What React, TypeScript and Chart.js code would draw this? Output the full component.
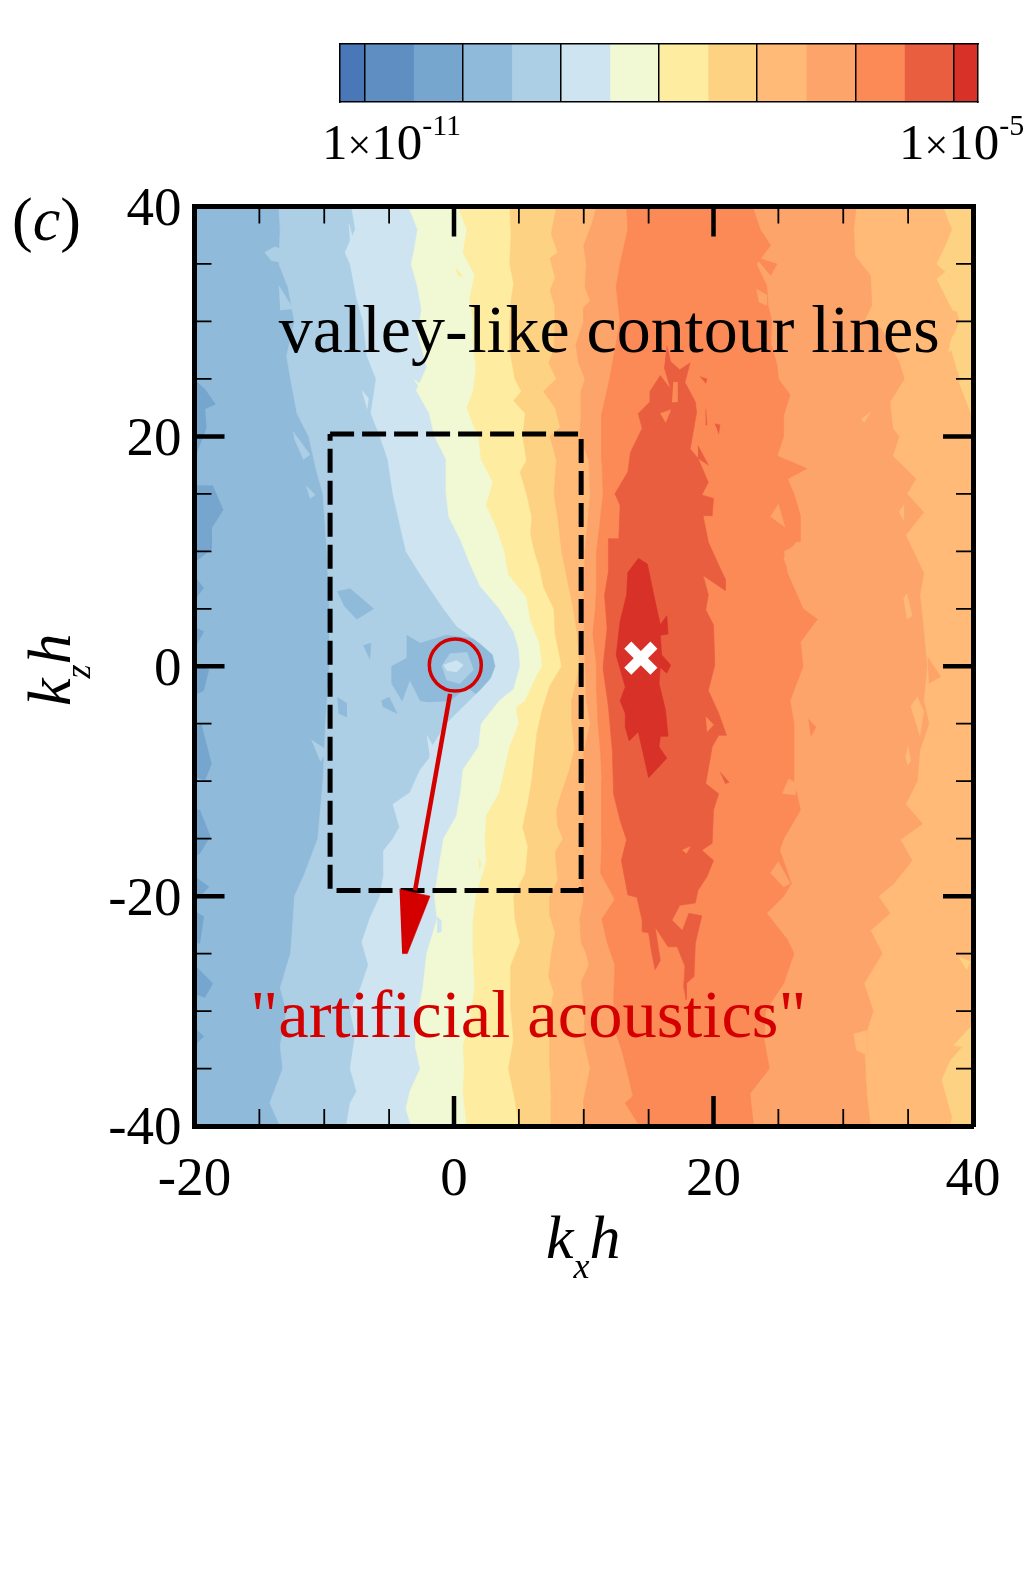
import React, { useEffect, useRef } from "react";
import { Chart, registerables } from "chart.js";

Chart.register(...registerables);

type Pt = [number, number];
const SERIF = '"Liberation Serif"';

// ---------- axis values ----------
const X_MIN = -20, X_MAX = 40, Y_MIN = -40, Y_MAX = 40;
const X_MAJOR = [0, 20];
const X_MINOR = [-15, -10, -5, 5, 10, 15, 25, 30, 35];
const Y_MAJOR = [-20, 0, 20];
const Y_MINOR = [-35, -30, -25, -15, -10, -5, 5, 10, 15, 25, 30, 35];

// ---------- colour levels ----------
const BAR_COLORS = ["#4a77b7", "#5f8ec3", "#76a5cd", "#90bad9", "#accfe5", "#cee5f1", "#f1f8d4", "#feeca0", "#fed283", "#feba76", "#fda46a", "#fc8a56", "#ea5e40", "#d73128"];
const BAR_CELLS = [0.5, 1, 1, 1, 1, 1, 1, 1, 1, 1, 1, 1, 1, 0.5];
const BAR_LINES = [0.5, 2.5, 4.5, 6.5, 8.5, 10.5, 12.5];

const C1 = BAR_COLORS[2], C2 = BAR_COLORS[3], C3 = BAR_COLORS[4], C4 = BAR_COLORS[5], C5 = BAR_COLORS[6], C6 = BAR_COLORS[7], C7 = BAR_COLORS[8], C8 = BAR_COLORS[9], C9 = BAR_COLORS[10], C10 = BAR_COLORS[11], C11 = BAR_COLORS[12], C12 = BAR_COLORS[13];

// ---------- contour boundaries: [kx, kz] ----------
const B1: Pt[] = [[-13.5,40],[-13.4,38],[-13.5,35],[-12.8,33],[-12.3,30],[-12.9,27],[-12.6,25],[-12.1,22],[-11.2,20],[-10.6,17],[-10.1,15],[-9.8,10],[-9.6,5],[-9.6,0],[-9.9,-5],[-10.1,-10],[-10.5,-15],[-11.5,-18],[-12.3,-20],[-12.4,-22],[-12.6,-25],[-13.4,-28],[-12.9,-30],[-13.4,-33],[-13.2,-35],[-14.2,-38],[-13.4,-40]];
const B2: Pt[] = [[-7.9,40],[-7.6,38],[-8.4,36],[-8,35],[-7.5,32],[-7,30],[-6.7,27],[-6,25],[-6.4,22],[-5.7,20],[-5.1,18],[-4.7,15],[-4.3,13],[-3.7,10],[-2.6,8],[-0.8,5],[0.2,3.5],[2,2],[3,1],[3.2,0],[2.9,-1],[2.1,-2],[1.2,-3],[-0.6,-5],[-1.7,-7],[-1.9,-8],[-2.6,-9],[-3.4,-11],[-4.7,-12],[-4.2,-14],[-4.7,-15],[-5.4,-16],[-5.4,-18],[-5.7,-20],[-6.5,-22],[-7.1,-24],[-6.6,-26],[-7.2,-28],[-8,-30],[-7.6,-32],[-8,-35],[-7.5,-37],[-8,-38],[-8.3,-40]];
const B3: Pt[] = [[-3.5,40],[-2.8,38],[-3.1,36],[-3.3,35],[-2.8,33],[-2.5,31],[-2.8,29],[-2.1,26],[-2.9,24],[-1.9,22],[-1.5,20],[-0.6,18],[-0.6,15],[-0.4,13],[0.5,11],[1.2,9],[2,7],[3.5,5],[4.6,3],[5,1.5],[5.1,0],[4.6,-2],[3.5,-3],[2.1,-5],[1.9,-7],[0.7,-9],[0.5,-11],[0.2,-13],[-0.8,-15],[-1.1,-17],[-1.5,-20],[-1.3,-22],[-2.1,-25],[-2.4,-28],[-2.9,-31],[-3,-33],[-2.6,-35],[-3.4,-37],[-3.7,-38.5],[-3.3,-40]];
const B4: Pt[] = [[0.3,40],[1,38],[0.7,36],[1.6,34],[1.2,32],[1.5,30],[1.5,28],[1.7,26],[1.5,24],[1,22.5],[1.5,21],[1.9,20],[2.1,18],[3,16],[2.5,14],[3.3,12],[3.9,10],[4.2,8],[5.6,6],[5.9,4],[6.6,2],[6.8,0],[6.3,-1],[5.5,-3],[4.8,-3.6],[5,-5],[4.3,-7],[3.9,-9],[3.5,-11],[2.5,-13],[2.4,-15],[2.5,-17],[1.7,-20],[1.5,-22],[1.5,-25],[1.6,-28],[1.2,-31],[0.7,-33],[0.8,-35],[0.7,-37],[1,-40]];
const B5: Pt[] = [[4.3,40],[4.4,37.6],[4.3,35],[4.6,33.3],[4.4,31.8],[4.3,30],[4.3,27.5],[4.7,25],[5.2,23.9],[4.6,23.1],[5.5,22],[5.3,20],[5.6,17.9],[5.1,16.9],[5.6,15],[6,13],[5.9,11.5],[6.2,10],[6.6,8.6],[6.9,6.9],[7.7,5],[7.8,2.8],[8.3,0],[7.4,-1.7],[6.8,-3.8],[6.4,-5.8],[6.2,-7.8],[6,-9.9],[5.7,-11.9],[5.3,-14],[5.7,-15.7],[5.5,-18],[4.6,-20],[4.7,-22],[5.1,-24],[4.4,-26],[4.4,-28],[4.4,-30],[4.6,-32.5],[4.2,-35],[4.7,-37.7],[5,-40]];
const B6: Pt[] = [[7.9,40],[7.5,37.6],[8,36],[7.4,35.5],[7.8,33.8],[7.4,32.7],[7.8,31.2],[7.8,30],[7.7,27.5],[7.3,26.4],[7.9,25],[6.9,23.9],[7.8,22.5],[8.2,20.8],[7.4,20],[7.9,17.9],[7.7,15],[8,13],[8.3,10],[8.8,7.2],[9.2,5],[9.5,2.8],[9.7,0],[9.1,-2.9],[9.1,-5],[9.3,-7.2],[8.9,-9],[8.3,-11],[7.9,-12.5],[8,-13.9],[8.4,-15],[7.8,-16.2],[8,-18.6],[7.4,-20],[7.4,-21.7],[7.8,-23.2],[7.5,-25],[7.3,-27],[7.7,-28.4],[7.4,-30],[7.4,-32.5],[7.4,-34.8],[7.5,-37.7],[7.5,-40]];
const B7: Pt[] = [[11,40],[10.6,38.4],[10,36.6],[10.2,35],[10.1,33],[10.5,31.8],[10,31.2],[10,30],[9.4,28],[9.6,26.4],[10.1,25],[9.8,23.9],[9.8,22],[9.7,20],[10.4,17.9],[10.5,15],[10.1,10],[10,5],[10.1,0],[10.2,-2.9],[10.5,-5],[10,-7.5],[10.1,-10],[10,-13],[10,-16],[9.8,-18.6],[10,-20.3],[9.7,-22],[9.8,-24],[10.2,-25],[10.4,-26],[9.8,-27.5],[10.1,-30],[10,-32.5],[10.5,-35],[10,-37.7],[10,-40]];
const B8: Pt[] = [[13.3,40],[13.4,38],[12.8,35],[12.5,33],[12.8,30],[12.4,27.5],[12,25],[11.4,22],[11.4,20],[11.4,17.9],[11.5,15],[11.3,13],[11,10],[11,7.2],[10.9,5],[10.7,2.8],[11,0],[11,-2.3],[11.1,-5],[11.3,-7.5],[11.4,-10],[11.4,-12.5],[11.4,-15],[11.3,-18],[12.4,-20.3],[11.4,-22],[11.8,-24],[12.4,-26],[12.3,-29],[12.5,-32],[12.9,-33.3],[13.3,-35],[13.8,-37.4],[13.2,-38],[14.3,-40]];
const B9: Pt[] = [[23,40],[23.6,38],[24.4,36.6],[23.3,35],[24.1,33.1],[24.2,31.4],[24.5,30],[24.4,28.2],[24.9,26.2],[25,25],[25.9,23.6],[25.4,21.8],[25.4,20],[24.9,18.3],[27.2,17.2],[25.7,16.3],[26.2,15],[26.7,13.1],[26.7,10.8],[25.4,10],[25.7,8.1],[26.9,5],[28,4.1],[26.7,2.1],[26.9,0],[26.4,-1.5],[25.9,-3],[26.2,-5],[26.2,-10],[26.7,-12.5],[25.4,-15],[25.1,-16],[26,-18.9],[25.4,-20],[24.1,-21.5],[25.7,-23.8],[26.2,-25],[25.4,-27.6],[24,-30],[23.9,-32.5],[24.3,-35],[22.8,-37.2],[23.1,-40]];
const B10: Pt[] = [[31,40],[30.8,38],[30.9,35.7],[32.1,34],[32.2,31.4],[31.6,30],[32.9,29.4],[34.3,26.5],[34.7,25],[33.6,23],[33.8,20.7],[34.3,20],[33.8,18.3],[35.6,16.3],[34.9,15],[36.2,13.4],[34.8,11.4],[35.4,10],[36.2,8.1],[35.9,6.2],[36.2,3],[36.45,0],[36.2,-3],[36.6,-5],[35.9,-7.3],[35.7,-10],[34.8,-12],[36.1,-13.7],[34.4,-15.1],[35.3,-16.9],[33.9,-18.9],[32.7,-20],[33.6,-21.5],[32.1,-23],[33,-25],[31.6,-27.6],[32.3,-30],[31.6,-32.5],[31.7,-35],[31.8,-37.2],[32.1,-40]];

const C7_TOP: Pt[] = [[37.7,40],[38.4,38],[37.9,36.6],[37.2,35],[38.2,34],[38.4,32.4],[39,30],[38.2,28],[39,25],[39.7,23],[40,21.2],[40,40]];
const C7_BOTTOM: Pt[] = [[39.8,-31.4],[38.5,-33],[39.2,-33.1],[38.25,-34.3],[37.6,-36],[38.4,-39.2],[38.25,-40],[40,-40],[40,-31.4]];

const C11_BLOB: Pt[] = [[16.4,27.9],[16.7,26.5],[17.4,25.8],[18.2,26.4],[17.8,24.7],[18.6,23],[18.7,22.1],[18.2,18.9],[18.8,18.1],[19.6,16],[19.1,14.9],[20,14.6],[19.9,13.1],[19.2,13.1],[19.6,10.8],[20.4,8.8],[20.9,7.6],[20.9,6.6],[19.2,7.9],[19.6,6.2],[19.4,4.9],[20,3.6],[20.1,0.1],[19.6,-2.1],[20.4,-4.1],[21,-6],[20.4,-6],[19.9,-7],[19.4,-10.2],[20.4,-11.1],[20,-12.5],[19.9,-15.4],[19.1,-16],[20,-16.9],[19.5,-18.3],[18.8,-19.5],[18.6,-20.6],[17.4,-20.8],[16.8,-22.1],[17.6,-23],[18.1,-21.5],[19.1,-21.7],[18.6,-24.1],[18.5,-27],[17.9,-27.6],[17.9,-29],[17.7,-27.9],[17.8,-26.1],[17.2,-24.4],[16.5,-24.4],[15.5,-22.7],[15.9,-25.6],[15.5,-26.4],[15.2,-24.7],[15,-23.2],[14.5,-23.1],[14.5,-22.1],[14.1,-20.1],[13.4,-19.9],[12.9,-16.9],[13.3,-15.1],[12.8,-13.4],[12.3,-11.1],[12.2,-7.3],[11.9,-3.5],[11.5,-0.3],[11.5,0.1],[11.8,3.3],[11.6,6.2],[11.9,8.2],[11.9,11.1],[12.7,11.1],[12.8,14],[12.4,15],[13.4,16.9],[13.6,18.6],[14.5,20.7],[14.2,22],[15.1,23],[15.1,23.9],[15.9,25.3],[16.7,24.1],[16.2,26]];
const C12_BLOB: Pt[] = [[14.2,9.4],[14.9,8.9],[15.4,6.2],[15.9,3.6],[16.4,4.4],[16.5,2.8],[15.9,2.7],[16,1],[16.7,0.1],[16.4,-0.6],[15.9,-0.1],[15.8,-1.5],[16.3,-3.8],[16.5,-6.1],[15.9,-6.1],[15.8,-7],[16.4,-8],[15,-9.7],[14.2,-5.7],[13.5,-6.5],[13.2,-5.3],[13.2,-4.1],[12.8,-3],[13.2,-1.8],[12.5,0.96],[12.8,3.9],[13.3,6.2],[13.4,8.2]];

// patches
const C1_PATCHES: Pt[][] = [
  [[-20,24.9],[-19.2,24.1],[-18.4,22.8],[-19.2,22.4],[-19.1,20.7],[-20,18.1]],
  [[-20,15.7],[-18.6,15.7],[-17.8,13.6],[-18.7,12],[-18.7,10.2],[-19.6,9.4],[-20,9.1]],
  [[-20,7.8],[-19.3,6.8],[-20,5.8]],
  [[-20,3.4],[-19.3,3],[-20,1.6]],
  [[-20,0.2],[-18.9,-0.3],[-19.3,-2.1],[-20,-2.5]],
  [[-20,-5.5],[-19.5,-5],[-18.7,-8.5],[-19.2,-9.9],[-20,-9.6]],
  [[-20,-12.5],[-19.6,-12.5],[-18.8,-14.8],[-19.6,-16.3],[-20,-16.5]],
  [[-20,-18.3],[-18.9,-19.2],[-20,-20.5]],
  [[-20,-21.3],[-19.3,-21.8],[-19.6,-24.1],[-20,-24]],
  [[-20,-26],[-18.6,-27.6],[-19.2,-28.8],[-20,-28.5]],
  [[-20,-31.5],[-19.3,-32.2],[-20,-33]],
];
const C2_PATCHES: Pt[][] = [
  [[-3.65,2.7],[-2.6,2],[-0.6,2.7],[1.5,2.4],[3.2,1.2],[3.2,0],[2.6,-1.5],[1.7,-2.4],[1,-1.8],[-0.3,-3],[-2,-3.1],[-2.6,-3],[-3.4,-1.2],[-4,-3],[-4.8,-1.5],[-4.8,0],[-3.65,0.7]],
  [[-9,6.5],[-8,6.75],[-6.2,5],[-7.5,4.1],[-8.5,5.3]],
  [[-5.6,-3],[-5,-2.7],[-4.4,-4.1],[-5.5,-3.5]],
  [[-9,-2.7],[-8.3,-3.2],[-8.3,-4.4],[-8.9,-4.1]],
  [[-7,1.8],[-6.4,2],[-6.5,0.6]],
];
const C3_PATCHES: Pt[][] = [
  [[-0.95,0],[-0.3,1.1],[1,1.2],[1.5,-0.3],[0.46,-1.5],[-0.57,-1.2]],
  [[-12.4,20.4],[-11.1,18.4],[-11.6,18],[-12.3,19.8]],
  [[-14.6,36],[-13.8,36.5],[-12.6,35.9],[-13.5,35.2],[-14.1,35.3]],
  [[-11,-6.4],[-9.8,-7.3],[-10.3,-8.3]],
  [[-11.4,15.7],[-10.7,14.9],[-11.1,14.6]],
  [[-13.5,33.1],[-12.4,31.1],[-13.4,31]],
];
const C4_PATCHES: Pt[][] = [
  [[-0.8,0.1],[0.2,0.5],[0.7,0.1],[0.2,-0.5],[-0.57,-0.35]],
  [[-2.1,-6],[-1.6,-7],[-1.85,-7.9]],
  [[-2.6,9.4],[-2.1,9.8],[-1.7,8.5],[-2.4,8.6]],
  [[-7.1,24],[-6.6,23.3],[-6.7,22.4]],
  [[-8.1,38.5],[-7.8,37.2],[-8,36.6]],
];
const C4_LATE: Pt[][] = [
  [[-1.3,-21.8],[-1,-22.1],[-1,-23.1],[-1.3,-23.2]],
];
const C5_LATE: Pt[][] = [
  [[-3.1,25],[-2,23.9],[-2.5,23.9]],
];
const C6_LATE: Pt[][] = [
  [[0.1,34.7],[0.7,33.9],[0.3,34]],
  [[1.9,-16.7],[2.1,-17.2],[1.95,-17.7]],
];
const C7_LATE: Pt[][] = [
  [[5.1,-24.4],[5.5,-26.4],[4.6,-27.2],[4.4,-26.1]],
  [[37.2,33.7],[38,34.4],[39,30.8],[38.4,31]],
  [[38.1,27.3],[38.75,27.9],[38.4,28.8]],
  [[38.9,24.7],[39.8,25],[39.8,22.1]],
  [[38.9,-25.3],[39.8,-25.7],[39.5,-26.4]],
];
const C8_LATE: Pt[][] = [
  [[35.2,-3.5],[35.7,-2.7],[36.2,-3.9],[35.9,-6.1]],
  [[34.8,-7.9],[35,-7],[35.2,-8.2],[34.95,-8.6]],
  [[31.4,21.5],[32.1,22.1],[31.6,21.2]],
  [[34.3,13.4],[34.65,14],[34.65,12.7]],
  [[34.65,5.9],[34.9,6.3],[35.3,4.4],[34.9,4.1]],
  [[30.8,-32],[31.8,-31.7],[31.8,-33.8],[31,-33.4]],
  [[32.7,-27.6],[33.2,-28.5],[32.9,-29.3],[32.5,-28.2]],
];
const C9_PATCHES: Pt[][] = [
  [[24.4,-18],[25,-17],[25.9,-18.9],[25.4,-19.2]],
  [[25.3,-11.1],[25.8,-9.8],[26.4,-10.2],[26.3,-11.2]],
  [[24.4,13],[25,14.1],[25.5,12.1]],
  [[23.3,32.8],[24.1,32.3],[24.1,31.4],[23.5,31.7]],
  [[25.4,9.4],[26.4,10.8],[27.5,10.8],[27.3,9.7],[26.2,7.6],[25.5,9.1]],
  [[36.5,0.8],[37.5,-0.9],[36.6,-1.5]],
];
const C10_PATCHES: Pt[][] = [
  [[23.2,35.6],[24.9,35],[24.4,34]],
  [[27.3,-4.6],[27.9,-5.3],[27.5,-6.1]],
];
const C10_HOLES: Pt[][] = [
  [[17.6,-16],[18.2,-15.7],[17.9,-16.3]],
  [[15.9,22],[16.7,22.3],[16.3,21.2]],
  [[16.9,24.7],[17.2,24.7],[17.2,23],[16.8,23]],
  [[19.4,-4.4],[20,-5.1],[19.5,-5.7]],
];
const C11_ISLANDS: Pt[][] = [
  [[18.95,25.2],[19.5,25],[19.4,24.6]],
  [[18.8,19.2],[19.6,17.5],[18.8,18.1]],
  [[20.1,21.1],[20.5,21],[20.4,20.2]],
  [[19.4,22.4],[19.5,21],[19.4,21]],
  [[20.5,-9.2],[21.2,-10.1],[20.9,-10.2]],
];

// annotations in data units
const DASH_BOX: Pt[] = [[-9.55,20.2],[9.8,20.2],[9.8,-19.5],[-9.55,-19.5],[-9.55,20.2]];
const ARROW_SHAFT: Pt[] = [[-0.3,-2.4],[-3,-19.5]];
const ARROW_HEAD: Pt[] = [[-4.2,-19.4],[-1.85,-20],[-3.6,-25],[-4,-25]];
const CIRCLE_CENTER: Pt[] = [[0.1,0.1]];
const PEAK_MARK: Pt[] = [[14.4,0.7]];
const PLOT_RECT: Pt[] = [[X_MIN,Y_MAX],[X_MAX,Y_MAX],[X_MAX,Y_MIN],[X_MIN,Y_MIN]];

const NOTE_BLACK = "valley-like contour lines";
const NOTE_RED = '"artificial acoustics"';
const RED = "#d40000";

const toXY = (p: Pt[]) => p.map(([x, y]) => ({ x, y }));

function shape(points: Pt[], color: string) {
  return {
    type: "scatter" as const,
    data: toXY(points),
    showLine: true,
    fill: "shape",
    backgroundColor: color,
    borderColor: color,
    borderWidth: 0.6,
    pointRadius: 0,
    tension: 0,
  };
}
const toRight = (left: Pt[]): Pt[] => [...left, [X_MAX, Y_MIN], [X_MAX, Y_MAX]];
const between = (left: Pt[], right: Pt[]): Pt[] => [...left, ...[...right].reverse()];

function segments(pairs: Pt[][], color: string, width: number) {
  const data: any[] = [];
  pairs.forEach((seg) => {
    seg.forEach(([x, y]) => data.push({ x, y }));
    data.push({ x: NaN, y: NaN });
  });
  return { type: "scatter" as const, data, showLine: true, spanGaps: false, fill: false, borderColor: color, borderWidth: width, pointRadius: 0 };
}

// tick marks are built from the tick arrays, with lengths in axis units
const XU = 12.97, YU = 11.5;
function tickSegs(xs: number[], ys: number[], len: number): Pt[][] {
  const out: Pt[][] = [];
  xs.forEach((v) => {
    out.push([[v, Y_MIN], [v, Y_MIN + len / YU]]);
    out.push([[v, Y_MAX], [v, Y_MAX - len / YU]]);
  });
  ys.forEach((v) => {
    out.push([[X_MIN, v], [X_MIN + len / XU, v]]);
    out.push([[X_MAX, v], [X_MAX - len / XU, v]]);
  });
  return out;
}

function fixedSize(prop: "width" | "height", value: number) {
  return (scale: any) => {
    scale[prop] = value;
  };
}

type Run = { t: string; font: string; dy?: number; gap?: number };
function drawRuns(ctx: CanvasRenderingContext2D, x: number, y: number, runs: Run[], color: string, rotate = false) {
  ctx.save();
  ctx.translate(x, y);
  if (rotate) ctx.rotate(-Math.PI / 2);
  ctx.fillStyle = color;
  ctx.textBaseline = "alphabetic";
  ctx.textAlign = "left";
  let cx = 0;
  runs.forEach((r) => {
    ctx.font = r.font;
    cx += r.gap || 0;
    ctx.fillText(r.t, cx, r.dy || 0);
    cx += ctx.measureText(r.t).width;
  });
  ctx.restore();
}

const textPlugin = {
  id: "figureText",
  afterDraw(chart: any) {
    const { ctx, scales } = chart;
    const px = (v: number) => scales.x.getPixelForValue(v);
    const py = (v: number) => scales.y.getPixelForValue(v);
    drawRuns(ctx, px(-13.5), py(27.3), [{ t: NOTE_BLACK, font: `68px ${SERIF}` }], "#000");
    drawRuns(ctx, px(-15.7), py(-32.3), [{ t: NOTE_RED, font: `68.5px ${SERIF}` }], RED);
    const f = `62px ${SERIF}`;
    const it = `italic 62px ${SERIF}`;
    const big = `italic 62px ${SERIF}`;
    const sub = `italic 36px ${SERIF}`;
    drawRuns(ctx, 12, 240, [{ t: "(", font: f }, { t: "c", font: it }, { t: ")", font: f }], "#000");
    drawRuns(ctx, 546, 1258, [{ t: "k", font: big }, { t: "x", font: sub, dy: 20 }, { t: "h", font: big }], "#000");
    drawRuns(ctx, 70, 706, [{ t: "k", font: big }, { t: "z", font: sub, dy: 20 }, { t: "h", font: big }], "#000", true);
    const b = `51px ${SERIF}`;
    const x = `42px ${SERIF}`;
    const s = `30px ${SERIF}`;
    drawRuns(ctx, 322, 159, [{ t: "1", font: b }, { t: "×", font: x }, { t: "10", font: b }, { t: "-11", font: s, dy: -24 }], "#000");
    drawRuns(ctx, 899, 159, [{ t: "1", font: b }, { t: "×", font: x }, { t: "10", font: b }, { t: "-5", font: s, dy: -24 }], "#000");
  },
};

export default function App() {
  const mainRef = useRef<HTMLCanvasElement>(null);
  const barRef = useRef<HTMLCanvasElement>(null);

  useEffect(() => {
    const paint: any[] = [
      shape(PLOT_RECT, C2),
      ...C1_PATCHES.map((p) => shape(p, C1)),
      shape(toRight(B1), C3),
      ...C2_PATCHES.map((p) => shape(p, C2)),
      ...C3_PATCHES.map((p) => shape(p, C3)),
      shape(toRight(B2), C4),
      ...C4_PATCHES.map((p) => shape(p, C4)),
      shape(toRight(B3), C5),
      shape(toRight(B4), C6),
      shape(toRight(B5), C7),
      shape(toRight(B6), C8),
      shape(C7_TOP, C7),
      shape(C7_BOTTOM, C7),
      shape(between(B7, B10), C9),
      shape(between(B8, B9), C10),
      ...C4_LATE.map((p) => shape(p, C4)),
      ...C5_LATE.map((p) => shape(p, C5)),
      ...C6_LATE.map((p) => shape(p, C6)),
      ...C7_LATE.map((p) => shape(p, C7)),
      ...C8_LATE.map((p) => shape(p, C8)),
      ...C9_PATCHES.map((p) => shape(p, C9)),
      ...C10_PATCHES.map((p) => shape(p, C10)),
      shape(C11_BLOB, C11),
      ...C10_HOLES.map((p) => shape(p, C10)),
      ...C11_ISLANDS.map((p) => shape(p, C11)),
      shape(C12_BLOB, C12),
      segments(tickSegs(X_MINOR, Y_MINOR, 17), "#000", 1.8),
      segments(tickSegs(X_MAJOR, Y_MAJOR, 30), "#000", 4.5),
      { type: "scatter", data: toXY(DASH_BOX), showLine: true, fill: false, borderColor: "#000", borderWidth: 5, borderDash: [24, 8], pointRadius: 0 },
      { type: "scatter", data: toXY(CIRCLE_CENTER), showLine: false, pointStyle: "circle", pointRadius: 26, pointBorderWidth: 3.5, pointBorderColor: RED, pointBackgroundColor: "rgba(0,0,0,0)" },
      { type: "scatter", data: toXY(ARROW_SHAFT), showLine: true, fill: false, borderColor: RED, borderWidth: 4.5, pointRadius: 0 },
      { ...shape(ARROW_HEAD, RED) },
      { type: "scatter", data: toXY(PEAK_MARK), showLine: false, pointStyle: "crossRot", pointRadius: 18.5, pointBorderWidth: 10, pointBorderColor: "#fff" },
    ];
    const tickFont = { family: "Liberation Serif", size: 55, weight: "normal" as const };
    const border = { display: true, color: "#000", width: 5, z: 3 };
    const main = new Chart(mainRef.current as HTMLCanvasElement, {
      type: "scatter",
      data: { datasets: paint.reverse() },
      plugins: [textPlugin],
      options: {
        animation: false,
        responsive: false,
        devicePixelRatio: 1,
        events: [],
        layout: { padding: { left: 0, top: 206.5, right: 51, bottom: 361 } },
        plugins: { legend: { display: false }, tooltip: { enabled: false } },
        scales: {
          x: {
            type: "linear", min: X_MIN, max: X_MAX, position: "bottom",
            afterFit: fixedSize("height", 100),
            border, grid: { display: false },
            ticks: { stepSize: 20, font: tickFont, color: "#000", padding: 14, maxRotation: 0, autoSkip: false },
          },
          y: {
            type: "linear", min: Y_MIN, max: Y_MAX, position: "left",
            afterFit: fixedSize("width", 194.5),
            border, grid: { display: false },
            ticks: { stepSize: 20, font: tickFont, color: "#000", padding: 5, labelOffset: 4, autoSkip: false },
          },
          x2: {
            type: "linear", axis: "x", min: X_MIN, max: X_MAX, position: "top",
            afterFit: fixedSize("height", 0),
            border, grid: { display: false }, ticks: { display: false },
          },
          y2: {
            type: "linear", axis: "y", min: Y_MIN, max: Y_MAX, position: "right",
            afterFit: fixedSize("width", 0),
            border, grid: { display: false }, ticks: { display: false },
          },
        } as any,
      } as any,
    });

    const barBorder = { display: true, color: "#000", width: 1.5, z: 3 };
    const bar = new Chart(barRef.current as HTMLCanvasElement, {
      type: "bar",
      data: {
        labels: ["levels"],
        datasets: BAR_CELLS.map((v, i) => ({ data: [v], backgroundColor: BAR_COLORS[i], borderWidth: 0, barPercentage: 1, categoryPercentage: 1 })),
      },
      options: {
        indexAxis: "y",
        animation: false,
        responsive: false,
        devicePixelRatio: 1,
        events: [],
        layout: { padding: { left: 10, top: 9, right: 12, bottom: 13 } },
        plugins: { legend: { display: false }, tooltip: { enabled: false } },
        scales: {
          x: {
            type: "linear", stacked: true, min: 0, max: 13, position: "bottom",
            afterFit: fixedSize("height", 0),
            afterBuildTicks: (s: any) => { s.ticks = BAR_LINES.map((value) => ({ value })); },
            border: barBorder,
            grid: { display: true, color: "#000", lineWidth: 1.5, drawTicks: false, z: 2 },
            ticks: { display: false },
          },
          y: {
            type: "category", stacked: true, position: "left",
            afterFit: fixedSize("width", 0),
            border: barBorder, grid: { display: false }, ticks: { display: false },
          },
          x2: { type: "linear", axis: "x", min: 0, max: 13, position: "top", afterFit: fixedSize("height", 0), border: barBorder, grid: { display: false }, ticks: { display: false } },
          y2: { type: "linear", axis: "y", min: 0, max: 1, position: "right", afterFit: fixedSize("width", 0), border: barBorder, grid: { display: false }, ticks: { display: false } },
        } as any,
      } as any,
    });
    return () => {
      main.destroy();
      bar.destroy();
    };
  }, []);

  return (
    <div style={{ position: "absolute", left: 0, top: 0, width: 1024, height: 1587, background: "#fff", overflow: "hidden" }}>
      <canvas ref={mainRef} width={1024} height={1587} style={{ position: "absolute", left: 0, top: 0 }} />
      <canvas ref={barRef} width={660} height={80} style={{ position: "absolute", left: 330, top: 35 }} />
    </div>
  );
}
